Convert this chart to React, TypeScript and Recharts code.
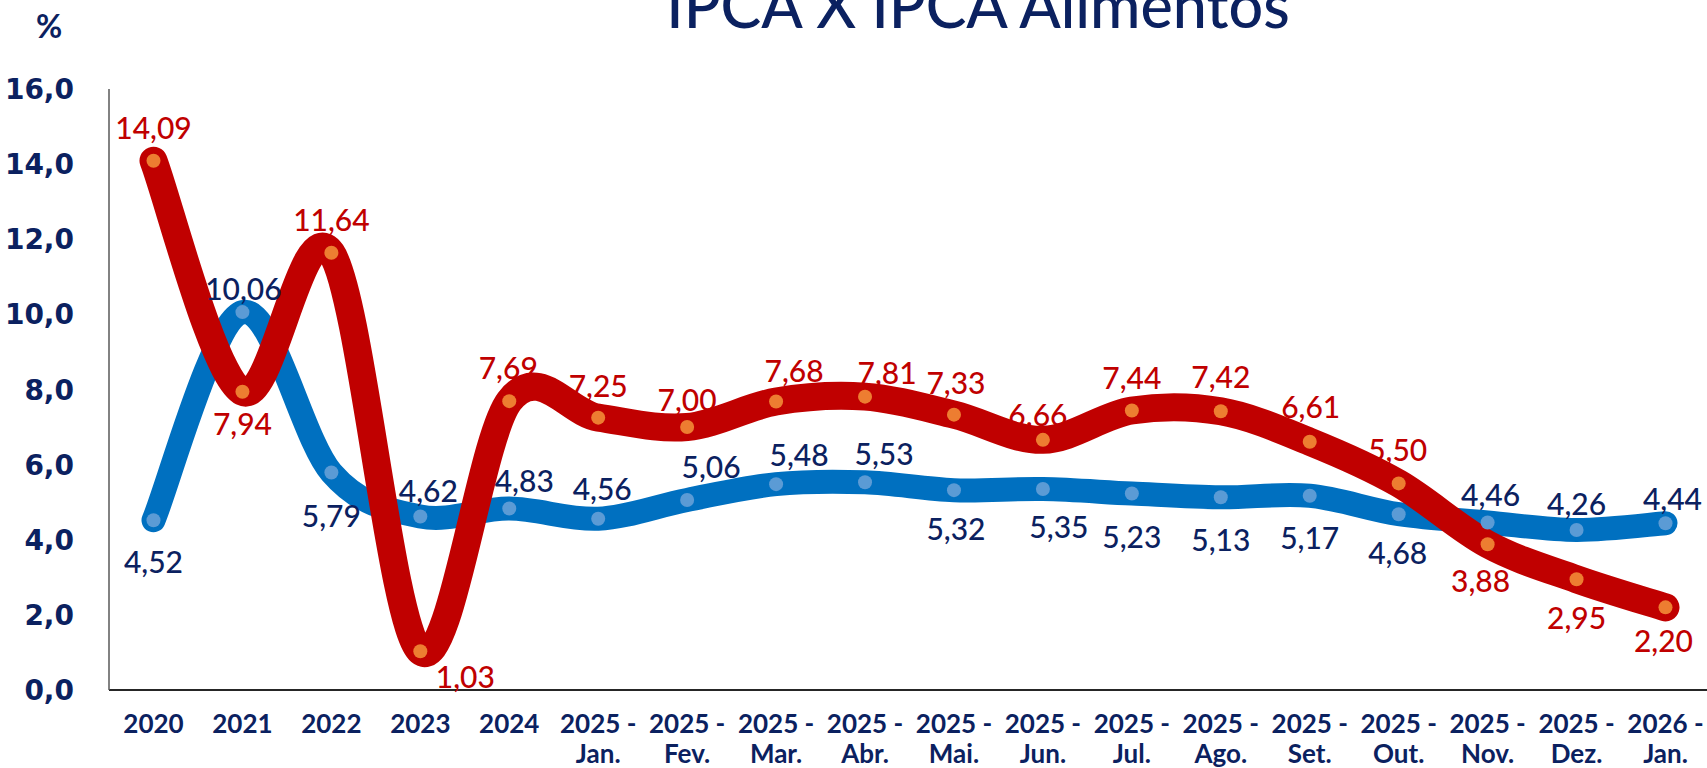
import React from 'react';
import { LineChart, Line, XAxis, YAxis, LabelList } from 'recharts';

// ---------- data ----------
const categories = [
  '2020', '2021', '2022', '2023', '2024',
  '2025 -\nJan.', '2025 -\nFev.', '2025 -\nMar.', '2025 -\nAbr.', '2025 -\nMai.',
  '2025 -\nJun.', '2025 -\nJul.', '2025 -\nAgo.', '2025 -\nSet.', '2025 -\nOut.',
  '2025 -\nNov.', '2025 -\nDez.', '2026 -\nJan.',
];
const ipca = [4.52, 10.06, 5.79, 4.62, 4.83, 4.56, 5.06, 5.48, 5.53, 5.32, 5.35, 5.23, 5.13, 5.17, 4.68, 4.46, 4.26, 4.44];
const ipcaAlimentos = [14.09, 7.94, 11.64, 1.03, 7.69, 7.25, 7.0, 7.68, 7.81, 7.33, 6.66, 7.44, 7.42, 6.61, 5.5, 3.88, 2.95, 2.2];
const yTicks = [0, 2, 4, 6, 8, 10, 12, 14, 16];
const title = 'IPCA X IPCA Alimentos';
const unitLabel = '%';

// label placement (dx, dy in px relative to the point)
const blueLabelOffsets: [number, number][] = [
  [0, 42], [1, -23], [0, 43], [8, -25], [15, -28], [4, -30], [24, -33], [23, -29], [19, -28],
  [2, 39], [16, 38], [0, 43], [0, 43], [0, 42], [-1, 39], [3, -27], [0, -26], [7, -24],
];
const redLabelOffsets: [number, number][] = [
  [0, -33], [0, 32], [0, -33], [45, 26], [-1, -33], [0, -32], [0, -27], [18, -31], [22, -24],
  [2, -32], [-5, -25], [0, -33], [0, -34], [1, -35], [-1, -33], [-7, 37], [0, 39], [-2, 34],
];

const data = categories.map((c, i) => ({ label: c, ipca: ipca[i], alim: ipcaAlimentos[i] }));

// ---------- styles ----------
const NAVY = '#0B2160';
const RED = '#C00000';
const BLUE = '#0070C0';
const ORANGE_DOT = '#ED7D31';
const BLUE_DOT = '#5B9BD5';

// Excel-like smoothed line (Catmull-Rom through the points)
function excelCurve(context: any) {
  let pts: [number, number][] = [];
  return {
    areaStart() {},
    areaEnd() {},
    lineStart() { pts = []; },
    lineEnd() {
      const n = pts.length;
      if (!n) return;
      context.moveTo(pts[0][0], pts[0][1]);
      if (n === 1) { context.lineTo(pts[0][0], pts[0][1]); return; }
      for (let i = 0; i < n - 1; i++) {
        const p0 = pts[i - 1] || pts[i];
        const p1 = pts[i];
        const p2 = pts[i + 1];
        const p3 = pts[i + 2] || p2;
        const c1x = p1[0] + (p2[0] - p0[0]) / 6;
        const c1y = p1[1] + (p2[1] - p0[1]) / 6;
        const c2x = p2[0] - (p3[0] - p1[0]) / 6;
        const c2y = p2[1] - (p3[1] - p1[1]) / 6;
        context.bezierCurveTo(c1x, c1y, c2x, c2y, p2[0], p2[1]);
      }
    },
    point(x: number, y: number) { pts.push([+x, +y]); },
  };
}

const fmt1 = (v: number) => v.toFixed(1).replace('.', ',');
const fmt2 = (v: number) => Number(v).toFixed(2).replace('.', ',');

const XTick = (props: any) => {
  const { x, y, payload } = props;
  const lines = String(payload.value).split('\n');
  return (
    <g>
      {lines.map((l: string, i: number) => (
        <text key={i} x={x} y={y + 43 + i * 30} textAnchor="middle" fill={NAVY}
          fontFamily="Lato" fontWeight={700} fontSize={26}>{l}</text>
      ))}
    </g>
  );
};

const YTick = (props: any) => {
  const { x, y, payload } = props;
  return (
    <text x={x - 35} y={y + 10} textAnchor="end" fill={NAVY}
      fontFamily="'DejaVu Sans'" fontWeight={700} fontSize={28}>{fmt1(payload.value)}</text>
  );
};

const makeLabel = (color: string, offsets: [number, number][]) => (props: any) => {
  const vb = props.viewBox || {};
  const x = vb.x ?? props.x;
  const y = vb.y ?? props.y;
  const idx = props.index ?? 0;
  const [dx, dy] = offsets[idx] || [0, -30];
  return (
    <text x={x + dx} y={y + dy + 11} textAnchor="middle" fill={color}
      fontFamily="Lato" fontWeight={500} fontSize={30}>{fmt2(props.value)}</text>
  );
};

export default function App() {
  return (
    <div style={{ position: 'absolute', left: 0, top: 0, width: 1707, height: 768, overflow: 'hidden', background: '#fff' }}>
      <LineChart width={1707} height={768} data={data} margin={{ top: 89, right: 0, bottom: 0, left: 0 }}>
        <XAxis dataKey="label" height={78} interval={0} padding={{ left: 44.5, right: 41.5 }}
          axisLine={{ stroke: '#262626', strokeWidth: 2 }} tickLine={false} tickSize={0} tickMargin={0}
          tick={<XTick />} />
        <YAxis width={109} domain={[0, 16]} ticks={yTicks} interval={0}
          axisLine={{ stroke: '#595959', strokeWidth: 1.5 }} tickLine={false} tickSize={0} tickMargin={0}
          tick={<YTick />} />
        <Line dataKey="ipca" type={excelCurve as any} stroke={BLUE} strokeWidth={24}
          strokeLinecap="round" strokeLinejoin="round"
          dot={{ r: 7, fill: BLUE_DOT, stroke: 'none', strokeWidth: 0 }} activeDot={false}
          isAnimationActive={false}>
          <LabelList dataKey="ipca" content={makeLabel(NAVY, blueLabelOffsets)} />
        </Line>
        <Line dataKey="alim" type={excelCurve as any} stroke={RED} strokeWidth={28}
          strokeLinecap="round" strokeLinejoin="round"
          dot={{ r: 7, fill: ORANGE_DOT, stroke: 'none', strokeWidth: 0 }} activeDot={false}
          isAnimationActive={false}>
          <LabelList dataKey="alim" content={makeLabel(RED, redLabelOffsets)} />
        </Line>
      </LineChart>
      <svg width={1707} height={768} style={{ position: 'absolute', left: 0, top: 0, pointerEvents: 'none' }}>
        <text x={978} y={28} textAnchor="middle" fill={NAVY} fontFamily="Lato" fontWeight={500} fontSize={61}>{title}</text>
        <text x={49} y={38} textAnchor="middle" fill={NAVY} fontFamily="Lato" fontWeight={700} fontSize={32}>{unitLabel}</text>
      </svg>
    </div>
  );
}
